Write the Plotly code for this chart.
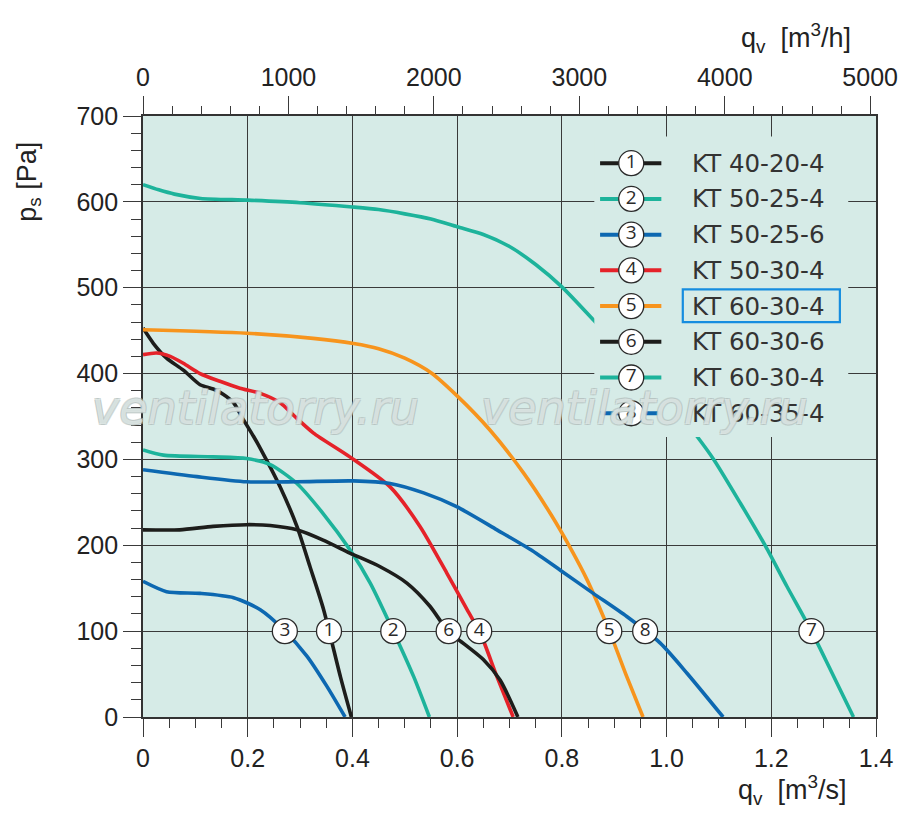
import numpy as np
import plotly.graph_objects as go

# ---------------- data ----------------
x1 = [0, 0.02, 0.045, 0.077, 0.109, 0.134, 0.153, 0.173, 0.192, 0.211, 0.224, 0.262, 0.294, 0.319, 0.345, 0.377, 0.398]
y1 = [453, 435, 418, 404, 387, 382, 376, 366, 346, 327, 313, 268, 222, 175, 125, 47, 0]

x2 = [0, 0.039, 0.134, 0.198, 0.243, 0.294, 0.344, 0.395, 0.434, 0.478, 0.517, 0.547]
y2 = [311, 305, 303, 301, 294, 272, 237, 195, 156, 100, 47, 0]

x3 = [0, 0.045, 0.109, 0.173, 0.224, 0.268, 0.313, 0.351, 0.386]
y3 = [158, 146, 144, 139, 125, 102, 71, 36, 0]

x4 = [0, 0.026, 0.052, 0.077, 0.109, 0.147, 0.185, 0.224, 0.262, 0.29, 0.325, 0.395, 0.472, 0.529, 0.58, 0.619, 0.644, 0.676, 0.707]
y4 = [422, 424, 420, 412, 400, 391, 383, 377, 366, 350, 331, 303, 268, 222, 168, 125, 98, 47, 0]

x5 = [0, 0.198, 0.325, 0.402, 0.45, 0.5, 0.55, 0.6, 0.663, 0.727, 0.778, 0.818, 0.848, 0.892, 0.924, 0.955]
y5 = [451, 447, 441, 435, 429, 418, 401, 374, 334, 284, 237, 195, 160, 98, 47, 0]

x6 = [0, 0.07, 0.134, 0.198, 0.243, 0.294, 0.344, 0.395, 0.453, 0.504, 0.548, 0.58, 0.599, 0.65, 0.682, 0.716]
y6 = [218, 218, 222, 224, 223, 218, 206, 191, 175, 156, 129, 102, 92, 67, 43, 0]

x7 = [0, 0.03, 0.06, 0.11, 0.2, 0.3, 0.4, 0.45, 0.5, 0.55, 0.6, 0.65, 0.7, 0.75, 0.8, 0.861, 0.93, 1.0, 1.058, 1.09, 1.141, 1.189, 1.23, 1.275, 1.313, 1.357]
y7 = [620, 614, 609, 604, 602, 599, 594, 591, 586, 580, 571, 562, 548, 527, 501, 462, 416, 372, 327, 300, 249, 199, 152, 102, 55, 0]

x8 = [0, 0.103, 0.198, 0.294, 0.402, 0.472, 0.536, 0.599, 0.676, 0.74, 0.797, 0.86, 0.924, 0.988, 1.039, 1.108]
y8 = [288, 280, 274, 274, 275, 272, 261, 245, 218, 195, 171, 144, 117, 86, 51, 0]

curve_numbers = ["1", "2", "3", "4", "5", "6", "7", "8"]
curve_names = ["KT 40-20-4", "KT 50-25-4", "KT 50-25-6", "KT 50-30-4",
               "KT 60-30-4", "KT 60-30-6", "KT 60-30-4", "KT 60-35-4"]
curve_x = [x1, x2, x3, x4, x5, x6, x7, x8]
curve_y = [y1, y2, y3, y4, y5, y6, y7, y8]
label_pressure = 100  # Pa, where the circled numbers sit

x_ticks = [0, 0.2, 0.4, 0.6, 0.8, 1.0, 1.2, 1.4]
x_ticktext = ["0", "0.2", "0.4", "0.6", "0.8", "1.0", "1.2", "1.4"]
y_ticks = [0, 100, 200, 300, 400, 500, 600, 700]
top_ticks = [0, 1000, 2000, 3000, 4000, 5000]

# ---------------- styles ----------------
BG = "#d6ebe7"
INK = "#2a2a2a"
colors = ["#1d1d1b", "#1db39b", "#0d68b1", "#e52229", "#f7941d", "#1d1d1b", "#1db39b", "#0d68b1"]
LW = 3.6


def x_at(xs, ys, yv):
    for i in range(len(xs) - 1):
        if (ys[i] - yv) * (ys[i + 1] - yv) <= 0 and ys[i] != ys[i + 1]:
            t = (yv - ys[i]) / (ys[i + 1] - ys[i])
            return xs[i] + t * (xs[i + 1] - xs[i])
    return None


fig = go.Figure()

# curves
for xs, ys, c in zip(curve_x, curve_y, colors):
    fig.add_trace(go.Scatter(x=xs, y=ys, mode="lines",
                             line=dict(color=c, width=LW, shape="spline", smoothing=0.7),
                             hoverinfo="skip", showlegend=False))

# circled numbers on the curves
lab_x = [x_at(xs, ys, label_pressure) for xs, ys in zip(curve_x, curve_y)]
fig.add_trace(go.Scatter(x=lab_x, y=[label_pressure] * len(lab_x), mode="markers+text",
                         text=curve_numbers, textposition="middle center",
                         textfont=dict(family="Open Sans, Noto Sans, sans-serif", size=19, color=INK),
                         marker=dict(size=25, color="white", line=dict(color=INK, width=1.3)),
                         hoverinfo="skip", showlegend=False))

# legend box background (hides gridlines and curve 7 behind it)
lx0, lx1, ly0, ly1 = 0.862, 1.347, 326, 676
fig.add_trace(go.Scatter(x=[lx0, lx1, lx1, lx0, lx0], y=[ly1, ly1, ly0, ly0, ly1],
                         mode="lines", fill="toself", fillcolor=BG, line=dict(width=0, color=BG),
                         hoverinfo="skip", showlegend=False))

row_y = [645 - 41.6 * i for i in range(len(curve_names))]
for ry, c in zip(row_y, colors):
    fig.add_trace(go.Scatter(x=[0.873, 0.99], y=[ry, ry], mode="lines",
                             line=dict(color=c, width=LW + 0.4),
                             hoverinfo="skip", showlegend=False))
fig.add_trace(go.Scatter(x=[0.9325] * len(row_y), y=row_y, mode="markers+text",
                         text=curve_numbers, textposition="middle center",
                         textfont=dict(family="Open Sans, Noto Sans, sans-serif", size=19, color=INK),
                         marker=dict(size=25, color="white", line=dict(color=INK, width=1.3)),
                         hoverinfo="skip", showlegend=False))

annotations = []
for ry, name in zip(row_y, curve_names):
    annotations.append(dict(x=1.044, y=ry, xref="x", yref="y", text=name, showarrow=False,
                            xanchor="left", yanchor="middle",
                            font=dict(family="DejaVu Sans, sans-serif", size=24.5, color="#333")))

# highlight box around legend entry 5
fig.add_shape(type="rect", xref="x", yref="y", x0=1.031, x1=1.331, y0=460, y1=498,
              line=dict(color="#168ddf", width=2.2), fillcolor="rgba(0,0,0,0)", layer="above")

# dummy trace for the top axis
fig.add_trace(go.Scatter(x=[0, 5040], y=[None, None], xaxis="x2", mode="lines",
                         hoverinfo="skip", showlegend=False))

# axis titles
tfont = dict(family="Liberation Sans, Arial, sans-serif", size=27, color="#222")
annotations += [
    dict(text="q<sub>v</sub>  [m<sup>3</sup>/s]", xref="paper", yref="paper", x=0.886, y=-0.122,
         xanchor="center", yanchor="middle", showarrow=False, font=tfont),
    dict(text="q<sub>v</sub>  [m<sup>3</sup>/h]", xref="paper", yref="paper", x=0.891, y=1.13,
         xanchor="center", yanchor="middle", showarrow=False, font=tfont),
    dict(text="p<sub>s</sub> [Pa]", xref="paper", yref="paper", x=-0.156, y=0.89,
         xanchor="center", yanchor="middle", showarrow=False, textangle=-90, font=tfont),
]

# watermark
wm_font = dict(family="DejaVu Sans, sans-serif", size=46, color="rgba(238,247,245,0.6)",
               style="italic",
               shadow="-1px -1px 0 #b3bfbd, 1px -1px 0 #b3bfbd, -1px 1px 0 #b3bfbd, 1px 1px 0 #b3bfbd")
for wx in [0.154, 0.684]:
    annotations.append(dict(text="ventilatorry.ru", xref="paper", yref="paper", x=wx, y=0.514,
                            xanchor="center", yanchor="middle", showarrow=False, font=wm_font))

tickfont = dict(family="Liberation Sans, Arial, sans-serif", size=25, color="#222")

# full-window figure; the page body margin is removed so the plot box lands at 143..876 x 116..717
fig.update_layout(
    template="none",
    width=900, height=820,
    margin=dict(l=143, r=24, t=116, b=103, pad=0, autoexpand=False),
    paper_bgcolor="white", plot_bgcolor=BG,
    showlegend=False,
    annotations=annotations,
    xaxis=dict(range=[0, 1.4], tickvals=x_ticks, ticktext=x_ticktext, tickfont=tickfont,
               automargin=False,
               showgrid=True, gridcolor="#3a3a3a", gridwidth=1.2, zeroline=False,
               ticks="outside", ticklen=18, tickwidth=1.3, tickcolor="#3a3a3a",
               showline=True, linecolor="#333", linewidth=1.6, mirror=True,
               minor=dict(dtick=0.05, ticks="outside", ticklen=9, tickwidth=1.2,
                          tickcolor="#3a3a3a", showgrid=False)),
    yaxis=dict(range=[0, 700], tickvals=y_ticks, tickfont=tickfont,
               automargin=False,
               showgrid=True, gridcolor="#3a3a3a", gridwidth=1.2, zeroline=False,
               ticks="outside", ticklen=18, tickwidth=1.3, tickcolor="#3a3a3a",
               showline=True, linecolor="#333", linewidth=1.6, mirror=True,
               minor=dict(dtick=20, ticks="outside", ticklen=10, tickwidth=1.2,
                          tickcolor="#3a3a3a", showgrid=False)),
    xaxis2=dict(overlaying="x", side="top", range=[0, 5040], tickvals=top_ticks, tickfont=tickfont,
                automargin=False,
                showgrid=False, zeroline=False, showline=False,
                ticks="outside", ticklen=19, tickwidth=1.3, tickcolor="#3a3a3a",
                minor=dict(dtick=200, ticks="outside", ticklen=9, tickwidth=1.2,
                           tickcolor="#3a3a3a", showgrid=False)),
)

fig.write_html("out.html", config={"displayModeBar": False},
               post_script="document.body.style.margin='0px';")
